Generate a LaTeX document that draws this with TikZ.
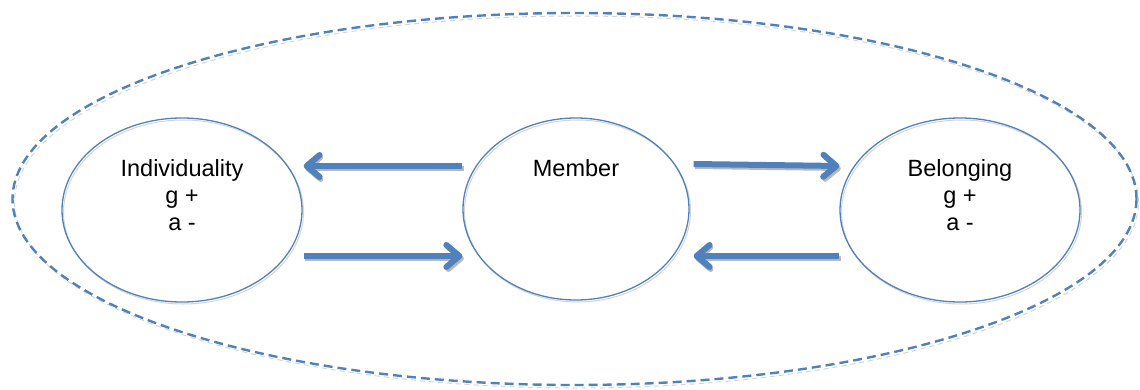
\documentclass[tikz,border=0pt]{standalone}
\usepackage{fontspec}
\setmainfont{Liberation Sans}
\usetikzlibrary{shapes.geometric,arrows.meta,calc}
\definecolor{ablue}{HTML}{4F81BD}
\definecolor{shad}{HTML}{B8B8B8}
\tikzset{
  bubble/.style={ellipse, draw=ablue, line width=1.3pt, inner sep=0pt,
    preaction={draw=shad!60, line width=1pt, transform canvas={shift={(1.5pt,-2pt)}}}},
  lbl/.style={anchor=north, inner sep=0pt, align=center, font=\fontsize{23.5}{27}\selectfont},
  fatarrow/.style={draw=ablue, line width=6pt,
    -{Straight Barb[length=13pt,width=22pt,round]},
    preaction={draw=shad, line width=5pt, -{Straight Barb[length=13pt,width=22pt,round]},
      transform canvas={shift={(1.5pt,-2.5pt)}}}},
  outerring/.style={draw=ablue, line width=2.4pt, dash pattern=on 9pt off 5pt,
    preaction={draw=shad!60, line width=1pt, dash pattern=on 5pt off 4pt,
      transform canvas={shift={(2pt,-3pt)}}}}
}
\begin{document}
\begin{tikzpicture}[x=1pt,y=1pt]
\useasboundingbox (0,0) rectangle (1140,389);
\draw[outerring] (574.5,190) ellipse [x radius=562, y radius=186];
\node[bubble, minimum width=240pt, minimum height=184pt] (ind) at (182,179) {};
\node[bubble, minimum width=226pt, minimum height=182pt] (mem) at (576,180) {};
\node[bubble, minimum width=240pt, minimum height=184pt] (bel) at (960,179) {};
\node[lbl] (indt) at ($(ind.center)+(0,51)$) {Individuality\\g +\\a -};
\node[lbl] (memt) at ($(mem.center)+(0,50)$) {Member};
\node[lbl] (belt) at ($(bel.center)+(0,51)$) {Belonging\\g +\\a -};
\draw[fatarrow] ([yshift=43pt]mem.west) -- ([xshift=1pt,yshift=44pt]ind.east);
\draw[fatarrow] ([xshift=1pt,yshift=-46pt]ind.east) -- ([yshift=-47pt]mem.west);
\draw[fatarrow] ([xshift=4pt,yshift=45pt]mem.east) -- ([yshift=44pt]bel.west);
\draw[fatarrow] ([yshift=-46pt]bel.west) -- ([xshift=4pt,yshift=-47pt]mem.east);
\end{tikzpicture}
\end{document}
